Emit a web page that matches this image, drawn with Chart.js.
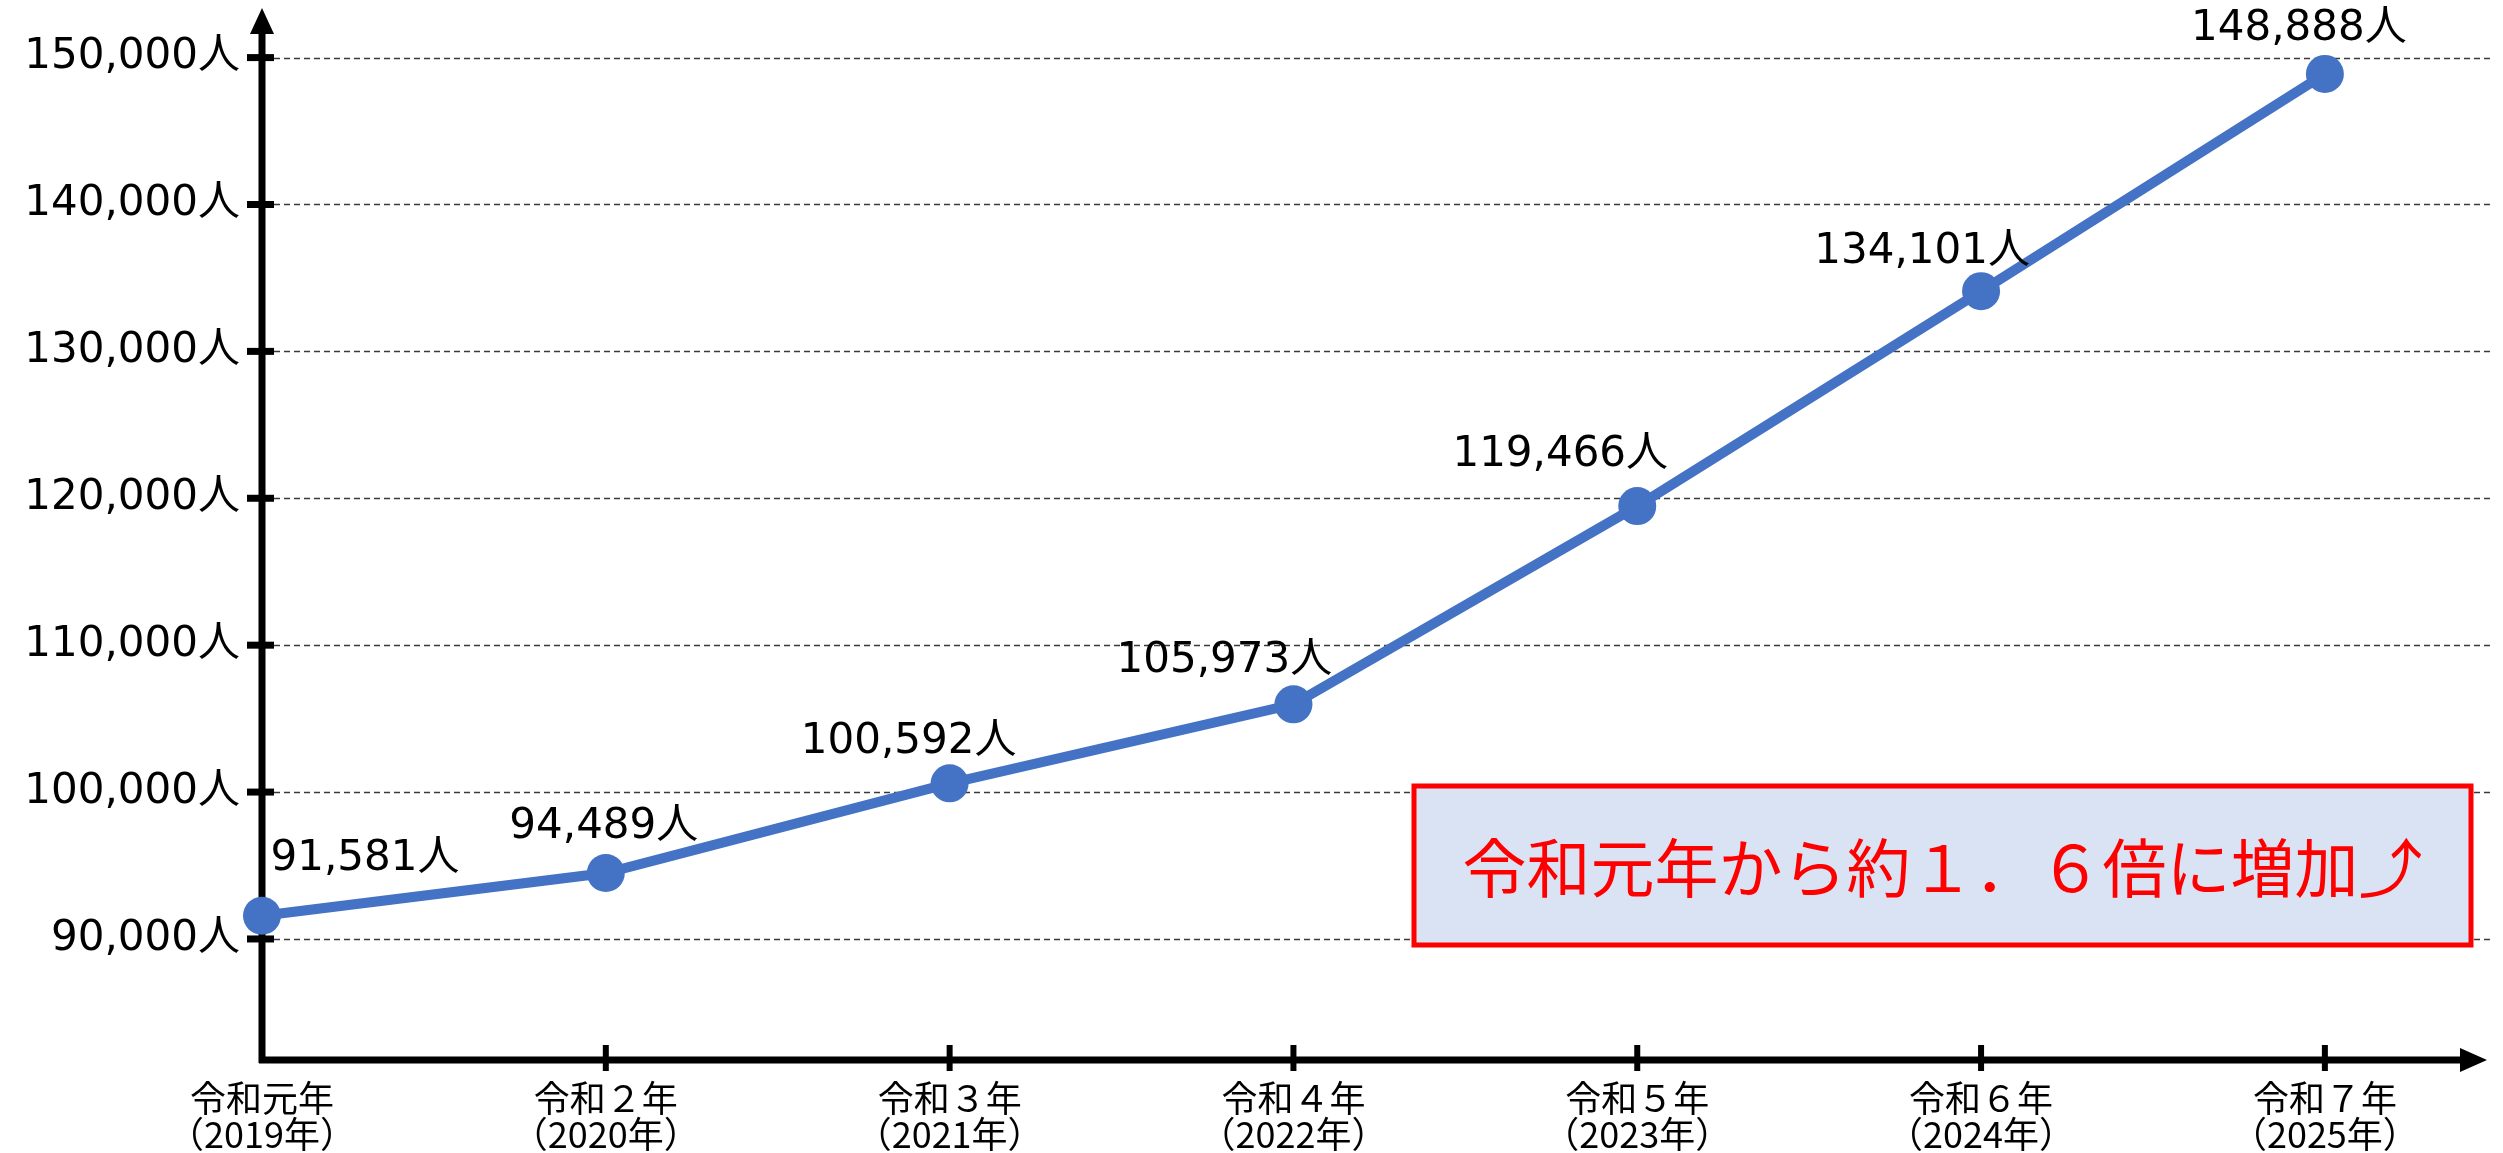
<!DOCTYPE html>
<html><head><meta charset="utf-8">
<script src="https://cdn.jsdelivr.net/npm/chart.js@4.4.1/dist/chart.umd.min.js"></script>
<style>html,body{margin:0;padding:0;background:#fff;overflow:hidden}canvas{display:block}</style>
</head><body>
<canvas id="c" width="2503" height="1153"></canvas>
<script>
// ---- data ----
const eraLabels = ['令和元年','令和２年','令和３年','令和４年','令和５年','令和６年','令和７年'];
const yearLabels = ['（2019年）','（2020年）','（2021年）','（2022年）','（2023年）','（2024年）','（2025年）'];
const visitors = [91581, 94489, 100592, 105973, 119466, 134101, 148888];
const yTickValues = [90000, 100000, 110000, 120000, 130000, 140000, 150000];
const calloutText = '令和元年から約１．６倍に増加⤴';

// ---- styling ----
const numFont = '"DejaVu Sans","Noto Sans CJK JP",sans-serif';
const jpFont = '"Noto Sans CJK JP","DejaVu Sans",sans-serif';
const labelOffsets = [[103,-57],[-2,-46],[-41,-41],[-69,-43],[-77,-51],[-59,-39],[-26,-45]];
const fmt = v => v.toLocaleString('en-US') + '人';

const decor = {
  id: 'decor',
  beforeDatasetsDraw(chart) {
    const {ctx, chartArea: a, scales: {x, y}} = chart;
    ctx.save();
    // dashed gridlines
    ctx.strokeStyle = '#3a3a3a'; ctx.lineWidth = 1.5; ctx.setLineDash([6, 4]);
    y.ticks.forEach(t => {
      const py = Math.round(y.getPixelForValue(t.value)) + 0.5;
      ctx.beginPath(); ctx.moveTo(a.left + 12, py); ctx.lineTo(a.right + 8, py); ctx.stroke();
    });
    ctx.setLineDash([]);
    // axes with arrows
    const ax = x.getPixelForValue(0), ay = a.bottom;
    ctx.strokeStyle = '#000'; ctx.fillStyle = '#000'; ctx.lineWidth = 7;
    ctx.beginPath(); ctx.moveTo(ax, ay + 3); ctx.lineTo(ax, a.top + 22); ctx.stroke();
    ctx.beginPath(); ctx.moveTo(ax, a.top - 2); ctx.lineTo(ax - 12, a.top + 24); ctx.lineTo(ax + 12, a.top + 24); ctx.closePath(); ctx.fill();
    ctx.beginPath(); ctx.moveTo(ax - 3, ay); ctx.lineTo(a.right - 20, ay); ctx.stroke();
    ctx.beginPath(); ctx.moveTo(a.right + 5, ay); ctx.lineTo(a.right - 22, ay - 12); ctx.lineTo(a.right - 22, ay + 12); ctx.closePath(); ctx.fill();
    // tick marks
    y.ticks.forEach(t => {
      const py = y.getPixelForValue(t.value);
      ctx.beginPath(); ctx.moveTo(ax - 15, py); ctx.lineTo(ax + 12, py); ctx.stroke();
    });
    ctx.lineWidth = 6;
    x.ticks.forEach((t, i) => {
      if (i === 0) return;
      const px = x.getPixelForValue(t.value);
      ctx.beginPath(); ctx.moveTo(px, ay - 15); ctx.lineTo(px, ay + 11); ctx.stroke();
    });
    ctx.restore();
  },
  afterDatasetsDraw(chart) {
    const {ctx} = chart;
    ctx.save();
    // value labels
    const meta = chart.getDatasetMeta(0);
    ctx.font = '42px ' + numFont; ctx.fillStyle = '#000';
    ctx.textAlign = 'center'; ctx.textBaseline = 'middle';
    meta.data.forEach((pt, i) => {
      const [dx, dy] = labelOffsets[i];
      ctx.fillText(fmt(visitors[i]), pt.x + dx, pt.y + dy);
    });
    // callout box
    const bx = 1414, by = 786, bw = 1057, bh = 159;
    ctx.fillStyle = '#DAE3F3'; ctx.fillRect(bx, by, bw, bh);
    ctx.strokeStyle = '#FF0000'; ctx.lineWidth = 5; ctx.strokeRect(bx, by, bw, bh);
    ctx.fillStyle = '#FF0000'; ctx.font = '64px ' + jpFont;
    ctx.textAlign = 'center'; ctx.textBaseline = 'middle';
    ctx.fillText(calloutText, bx + bw / 2, by + bh / 2 + 2);
    ctx.restore();
  }
};

new Chart(document.getElementById('c'), {
  type: 'line',
  data: {
    datasets: [{
      data: visitors.map((v, i) => ({x: i, y: v})),
      borderColor: '#4472C4', backgroundColor: '#4472C4',
      borderWidth: 10, pointRadius: 19, pointHoverRadius: 19,
      pointBackgroundColor: '#4472C4', pointBorderWidth: 0,
      tension: 0, clip: false
    }]
  },
  options: {
    responsive: false, animation: false, devicePixelRatio: 1,
    layout: {autoPadding: false, padding: {top: 10, right: 21, left: 0, bottom: 0}},
    plugins: {legend: {display: false}, tooltip: {enabled: false}},
    scales: {
      x: {
        type: 'linear', min: 0, max: 6.457,
        grid: {display: false, drawTicks: false}, border: {display: false},
        afterBuildTicks: s => { s.ticks = eraLabels.map((_, i) => ({value: i})); },
        afterFit: s => { s.height = 93; s.paddingLeft = 0; s.paddingRight = 0; },
        ticks: {autoSkip: false, maxRotation: 0, minRotation: 0, padding: 20, color: '#000',
          font: {family: jpFont, size: 36, lineHeight: 1},
          callback: (v, i) => [eraLabels[i], yearLabels[i]]}
      },
      y: {
        min: 81760, max: 153240,
        grid: {display: false, drawTicks: false}, border: {display: false},
        afterBuildTicks: s => { s.ticks = yTickValues.map(v => ({value: v})); },
        afterFit: s => { s.width = 262; s.paddingTop = 0; s.paddingBottom = 0; },
        ticks: {padding: 22, color: '#000', font: {family: numFont, size: 42},
          callback: v => fmt(v)}
      }
    }
  },
  plugins: [decor]
});
</script>
</body></html>
